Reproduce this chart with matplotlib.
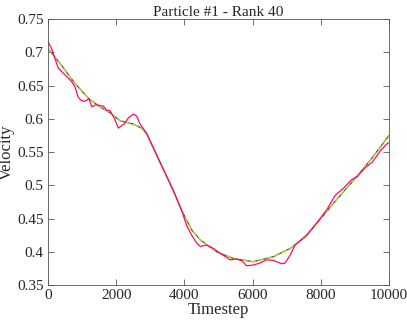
import numpy as np
import matplotlib.pyplot as plt
from matplotlib.ticker import FixedLocator, FixedFormatter

# magenta trace (observed velocity)
t_obs = [0, 100, 300, 500, 690, 790, 880, 960, 1060, 1200, 1280, 1400, 1620, 1720,
         1820, 1950, 2060, 2250, 2350, 2500, 2600, 2690, 2890, 3280, 3670, 3920,
         4060, 4210, 4360, 4460, 4650, 4850, 5040, 5340, 5530, 5700, 5820, 6010,
         6210, 6410, 6610, 6850, 6950, 7100, 7240, 7580, 7870, 8170, 8420, 8650,
         8890, 9070, 9270, 9510, 9760, 9950, 10000]
v_obs = [0.716, 0.706, 0.676, 0.666, 0.656, 0.648, 0.633, 0.628, 0.626, 0.630, 0.618,
         0.621, 0.619, 0.613, 0.612, 0.600, 0.586, 0.593, 0.601, 0.607, 0.604, 0.593,
         0.578, 0.535, 0.493, 0.462, 0.440, 0.425, 0.413, 0.408, 0.410, 0.405, 0.398,
         0.388, 0.389, 0.386, 0.379, 0.380, 0.383, 0.388, 0.387, 0.382, 0.383, 0.395,
         0.410, 0.425, 0.443, 0.463, 0.485, 0.495, 0.508, 0.513, 0.525, 0.535, 0.553,
         0.563, 0.564]

# smooth fit
t_fit = [0, 400, 790, 1200, 1520, 1820, 2110, 2500, 2740, 2900, 3280, 3670, 3920,
         4210, 4460, 4940, 5430, 6010, 6610, 7100, 7560, 8000, 8420, 9000, 9500, 10000]
v_fit = [0.706, 0.680, 0.653, 0.630, 0.618, 0.609, 0.597, 0.592, 0.586, 0.577, 0.535,
         0.492, 0.462, 0.433, 0.418, 0.400, 0.390, 0.385, 0.3926, 0.405, 0.423, 0.450,
         0.476, 0.510, 0.541, 0.575]

plt.rcParams['font.family'] = ['Liberation Serif', 'DejaVu Serif']

fig = plt.figure(figsize=(4.07, 3.25), dpi=100)
ax = fig.add_axes([0.118, 0.123, 0.838, 0.8185])

ax.plot(t_fit, v_fit, color='#3f5f18', linewidth=0.9)
ax.plot(t_fit, v_fit, color='#b9d23a', linewidth=1.0, dashes=(4, 2))
ax.plot(t_obs, v_obs, color='#ff0a6e', linewidth=0.9)

ax.set_xlim(0, 10000)
ax.set_ylim(0.35, 0.75)
yt = [0.35, 0.4, 0.45, 0.5, 0.55, 0.6, 0.65, 0.7, 0.75]
ax.yaxis.set_major_locator(FixedLocator(yt))
ax.yaxis.set_major_formatter(FixedFormatter(['0.35', '0.4', '0.45', '0.5', '0.55', '0.6', '0.65', '0.7', '0.75']))
ax.set_xticks([0, 2000, 4000, 6000, 8000, 10000])

ax.tick_params(direction='in', top=True, right=True, length=4, width=0.6,
               color='#555555', labelcolor='#262626', labelsize=11, pad=3)
for s in ax.spines.values():
    s.set_color('#555555')
    s.set_linewidth(0.6)

ax.set_title('Particle #1 - Rank 40', fontsize=11, color='#262626', pad=2)
ax.set_xlabel('Timestep', fontsize=12, color='#262626', labelpad=0)
ax.set_ylabel('Velocity', fontsize=12, color='#262626')
ax.yaxis.set_label_coords(-0.098, 0.5)

fig.savefig('out.png', dpi=100)
